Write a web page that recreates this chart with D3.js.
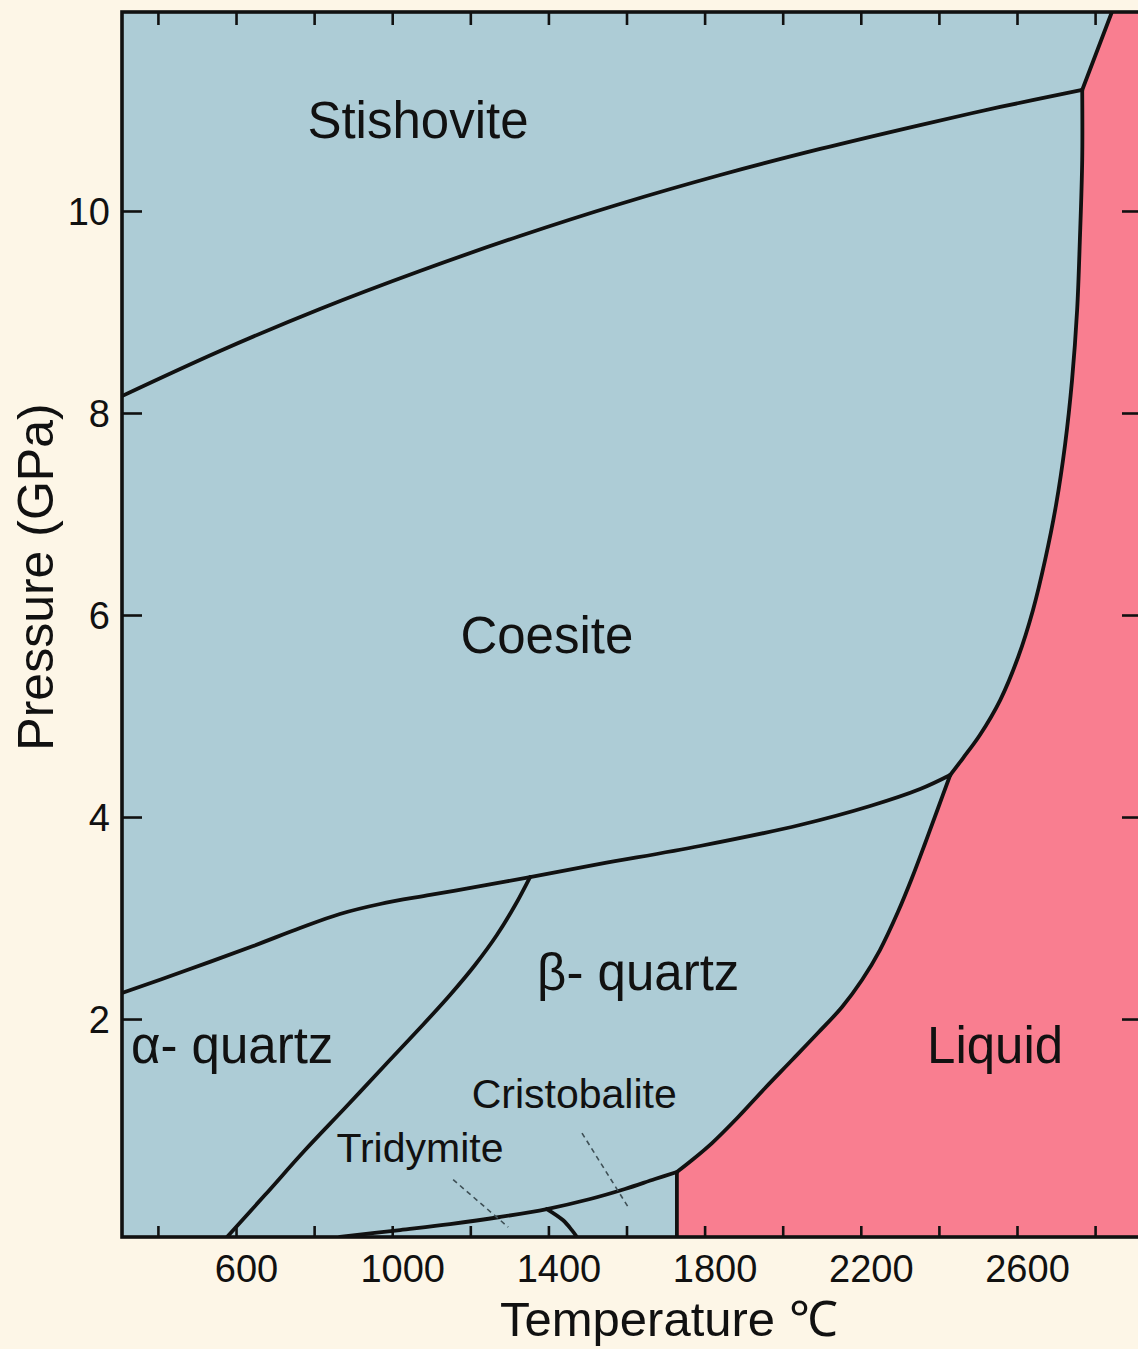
<!DOCTYPE html>
<html>
<head>
<meta charset="utf-8">
<script src="https://cdn.jsdelivr.net/npm/d3@7"></script>
<style>
  html, body { margin: 0; padding: 0; background: #FDF6E7; }
  svg { display: block; }
  text { font-family: "Liberation Sans", Arial, Helvetica, sans-serif; fill: #111; }
</style>
</head>
<body>
<svg id="chart" width="1138" height="1349"></svg>
<script>
// ---- Data (Temperature °C, Pressure GPa) ----
const stishoviteCoesite = [[308,8.168],[559,8.614],[815,9.030],[1071,9.406],[1327,9.752],[1583,10.069],[1840,10.356],[2096,10.614],[2352,10.851],[2557,11.030],[2767,11.198]];
const stishoviteLiquid = [[2767,11.198],[2843,11.97],[2862,12.2]];
const coesiteLiquid = [[2767,11.198],[2767,10.505],[2761,9.713],[2754,9.020],[2741,8.327],[2723,7.683],[2700,7.089],[2672,6.545],[2641,6.050],[2603,5.584],[2557,5.158],[2505,4.812],[2462,4.584],[2429,4.416]];
const quartzCoesite = [[308,2.257],[475,2.485],[644,2.723],[764,2.901],[866,3.040],[969,3.139],[1097,3.228],[1243,3.327],[1353,3.406],[1532,3.535],[1788,3.713],[2044,3.921],[2224,4.109],[2352,4.277],[2429,4.416]];
const alphaBeta = [[1353,3.406],[1315,3.129],[1268,2.832],[1212,2.535],[1148,2.238],[1071,1.911],[982,1.545],[879,1.119],[777,0.703],[674,0.257],[577,-0.158]];
const betaLiquid = [[2429,4.416],[2398,4.089],[2365,3.743],[2331,3.396],[2295,3.059],[2249,2.683],[2203,2.386],[2152,2.119],[2090,1.861],[2024,1.594],[1955,1.317],[1886,1.030],[1819,0.772],[1768,0.604],[1729,0.485]];
const cristobaliteLiquid = [[1729,0.485],[1729,-0.158]];
const betaTridCrist = [[1729,0.485],[1673,0.416],[1596,0.317],[1507,0.218],[1396,0.119],[1276,0.040],[1148,-0.030],[1020,-0.089],[866,-0.158]];
const tridymiteCristobalite = [[1396,0.119],[1437,0.01],[1460,-0.09],[1473,-0.158]];
const tridymiteLeader = [[1156,0.41],[1297,-0.06]];
const cristobaliteLeader = [[1486,0.87],[1604,0.14]];

const xTicks = [400,600,800,1000,1200,1400,1600,1800,2000,2200,2400,2600,2800];
const xTickLabels = [600,1000,1400,1800,2200,2600];
const yTicks = [2,4,6,8,10];

const regionLabels = [
  {text:"Stishovite", T:1066, P:10.72},
  {text:"Coesite", T:1396, P:5.62},
  {text:"\u03B2- quartz", T:1630, P:2.29},
  {text:"\u03B1- quartz", T:590, P:1.56},
  {text:"Liquid", T:2544, P:1.56}
];
const phaseLabels = [
  {text:"Cristobalite", T:1466, P:1.12},
  {text:"Tridymite", T:1071, P:0.58}
];

// ---- Layout ----
const svg = d3.select("#chart");
const L = 122, R = 1140, T0 = 12, B = 1237;
const x = d3.scaleLinear().domain([308, 2915]).range([L, R]);
const y = d3.scaleLinear().domain([-0.158, 11.97]).range([B, T0]);

const BLUE = "#ADCCD6", PINK = "#F97E90", INK = "#111";

svg.append("defs").append("clipPath").attr("id","plotclip")
  .append("rect").attr("x",L).attr("y",T0).attr("width",R-L).attr("height",B-T0);

const plot = svg.append("g").attr("clip-path","url(#plotclip)");

plot.append("rect").attr("x",L).attr("y",T0).attr("width",R-L).attr("height",B-T0).attr("fill",BLUE);

const curve = d3.line().x(d=>x(d[0])).y(d=>y(d[1])).curve(d3.curveCatmullRom.alpha(0.5));
const straight = d3.line().x(d=>x(d[0])).y(d=>y(d[1]));

// Liquid region polygon
function seg(path, first){ return first ? path : path.replace(/^M/, "L"); }
const liquidCorner = [[2862,12.2],[3000,12.2],[3000,-0.5],[1729,-0.5]];
const rev = a => a.slice().reverse();
const liquidPath =
  seg(straight(stishoviteLiquid), true) +
  seg(straight(liquidCorner), false) +
  seg(straight(rev(cristobaliteLiquid)), false) +
  seg(curve(rev(betaLiquid)), false) +
  seg(curve(rev(coesiteLiquid)), false) + "Z";
plot.append("path").attr("d", liquidPath).attr("fill", PINK);

// Phase boundaries
const boundaries = [stishoviteCoesite, coesiteLiquid, quartzCoesite, alphaBeta, betaLiquid, betaTridCrist, tridymiteCristobalite];
plot.selectAll("path.boundary").data(boundaries).join("path")
  .attr("class","boundary")
  .attr("d", curve).attr("fill","none").attr("stroke",INK).attr("stroke-width",3.8)
  .attr("stroke-linejoin","round").attr("stroke-linecap","round");
plot.selectAll("path.straightb").data([stishoviteLiquid, cristobaliteLiquid]).join("path")
  .attr("class","straightb")
  .attr("d", straight).attr("fill","none").attr("stroke",INK).attr("stroke-width",3.8)
  .attr("stroke-linejoin","round");

// leader dashes
plot.selectAll("path.leader").data([tridymiteLeader, cristobaliteLeader]).join("path")
  .attr("class","leader").attr("d", straight).attr("fill","none")
  .attr("stroke","#3f5056").attr("stroke-width",1.6).attr("stroke-dasharray","5,4");

// Region labels
plot.selectAll("text.region").data(regionLabels).join("text")
  .attr("class","region")
  .attr("x", d=>x(d.T)).attr("y", d=>y(d.P))
  .attr("text-anchor","middle").attr("font-size", 51)
  .text(d=>d.text);
plot.selectAll("text.phase").data(phaseLabels).join("text")
  .attr("class","phase")
  .attr("x", d=>x(d.T)).attr("y", d=>y(d.P))
  .attr("text-anchor","middle").attr("font-size", 41)
  .text(d=>d.text);

// Axes
const fmtX = d => xTickLabels.includes(d) ? String(d) : "";
const gB = svg.append("g").attr("transform",`translate(0,${B})`)
  .call(d3.axisBottom(x).tickValues(xTicks).tickSize(-11).tickSizeOuter(0).tickFormat(fmtX));
gB.select(".domain").remove();
gB.selectAll("text").attr("y", 45).attr("dy", 0).attr("dx", 10).attr("font-size", 38)
  .style("font-family","Liberation Sans, Arial, sans-serif").attr("fill", INK);

const gT = svg.append("g").attr("transform",`translate(0,${T0})`)
  .call(d3.axisTop(x).tickValues(xTicks).tickSize(-13).tickSizeOuter(0).tickFormat(""));
gT.select(".domain").remove();

const gL = svg.append("g").attr("transform",`translate(${L},0)`)
  .call(d3.axisLeft(y).tickValues(yTicks).tickSize(-20).tickSizeOuter(0).tickPadding(12));
gL.select(".domain").remove();
gL.selectAll("text").attr("font-size", 38).attr("dy","0.35em")
  .style("font-family","Liberation Sans, Arial, sans-serif").attr("fill", INK);

const gR = svg.append("g").attr("transform",`translate(${R},0)`)
  .call(d3.axisRight(y).tickValues(yTicks).tickSize(-18).tickSizeOuter(0).tickFormat(""));
gR.select(".domain").remove();

svg.selectAll(".tick line").attr("stroke", INK).attr("stroke-width", 2.6);

// frame
svg.append("rect").attr("x",L).attr("y",T0).attr("width",R-L).attr("height",B-T0)
  .attr("fill","none").attr("stroke",INK).attr("stroke-width",3.6);

// Axis titles
svg.append("text").attr("x", 500).attr("y", 1336).attr("font-size", 49)
  .text("Temperature \u2103");

svg.append("text")
  .attr("transform","translate(53,577) rotate(-90)")
  .attr("text-anchor","middle").attr("font-size", 50)
  .text("Pressure (GPa)");
</script>
</body>
</html>
